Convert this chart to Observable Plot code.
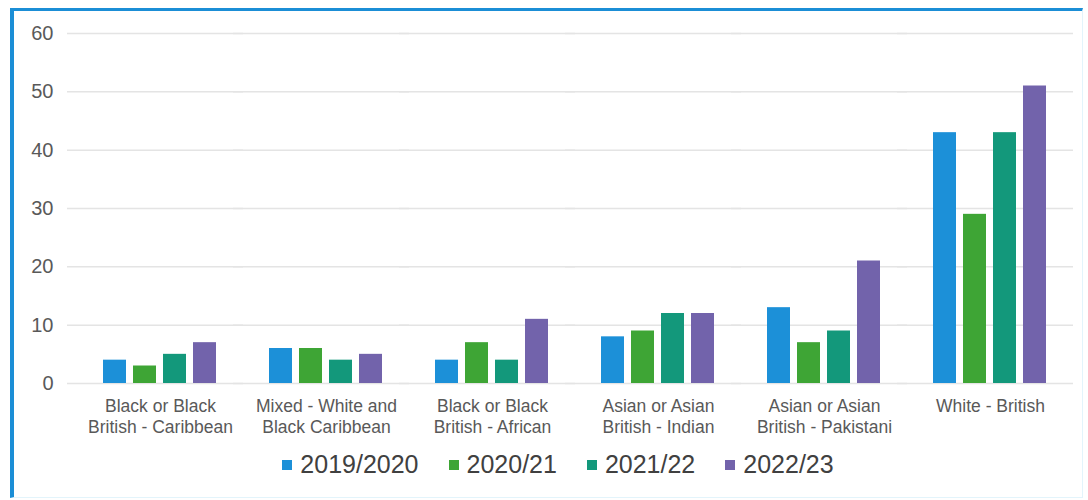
<!DOCTYPE html>
<html>
<head>
<meta charset="utf-8">
<script src="https://cdn.jsdelivr.net/npm/d3@7"></script>
<script src="https://cdn.jsdelivr.net/npm/@observablehq/plot@0.6"></script>
<style>
  html, body { margin: 0; padding: 0; background: #ffffff; width: 1088px; height: 500px; overflow: hidden; }
  body { position: relative; font-family: "Liberation Sans", Arial, sans-serif; }
  #frame { position: absolute; left: 10px; top: 8px; width: 1073px; height: 490px;
           border-top: 3px solid #1b8ed6; border-left: 4px solid #1b8ed6;
           border-right: 1px solid #e3f4fb; border-bottom: 1px solid #e3f4fb; box-sizing: border-box; }
  #chart { position: absolute; left: 0; top: 0; }
  #legend { position: absolute; left: 0; top: 450px; width: 1116px; display: flex; justify-content: center;
            gap: 30px; font-size: 25px; color: #404040; }
  .item { display: flex; align-items: center; gap: 8px; }
  .sw { width: 10px; height: 10px; display: inline-block; }
</style>
</head>
<body>
<div id="frame"></div>
<div id="chart"></div>
<div id="legend"></div>
<script>
const categories = [
  "Black or Black British - Caribbean",
  "Mixed - White and Black Caribbean",
  "Black or Black British - African",
  "Asian or Asian British - Indian",
  "Asian or Asian British - Pakistani",
  "White - British"
];
const tickLabels = [
  "Black or Black\nBritish - Caribbean",
  "Mixed - White and\nBlack Caribbean",
  "Black or Black\nBritish - African",
  "Asian or Asian\nBritish - Indian",
  "Asian or Asian\nBritish - Pakistani",
  "White - British"
];
const series = ["2019/2020", "2020/21", "2021/22", "2022/23"];
const colors = ["#1c90d8", "#3ea535", "#13987b", "#7263ab"];
const v2019 = [4, 6, 4, 8, 13, 43];
const v2020 = [3, 6, 7, 9, 7, 29];
const v2021 = [5, 4, 4, 12, 9, 43];
const v2022 = [7, 5, 11, 12, 21, 51];
const yTicks = [0, 10, 20, 30, 40, 50, 60];

const valuesBySeries = [v2019, v2020, v2021, v2022];
const data = [];
categories.forEach((c, i) => {
  series.forEach((s, j) => data.push({category: c, series: s, value: valuesBySeries[j][i]}));
});
const labelOf = new Map(categories.map((c, i) => [c, tickLabels[i]]));

const chart = Plot.plot({
  width: 1088,
  height: 445,
  marginTop: 33,
  marginBottom: 62,
  marginLeft: 77,
  marginRight: 15,
  style: {fontFamily: "Liberation Sans, Arial, sans-serif", background: "transparent"},
  fx: {domain: categories, padding: 0, label: null},
  x: {domain: series, paddingInner: 0.23, paddingOuter: 0.88, axis: null},
  y: {domain: [0, 60], label: null},
  color: {domain: series, range: colors},
  marks: [
    Plot.gridY(yTicks, {stroke: "#e4e4e4", strokeOpacity: 1, strokeWidth: 1.5, insetLeft: -10}),
    Plot.axisY(yTicks, {tickSize: 0, tickPadding: 24, fontSize: 20, fill: "#595959", label: null}),
    Plot.axisFx({anchor: "bottom", tickSize: 0, tickPadding: 14, fontSize: 17.5, lineHeight: 1.2, fill: "#595959", label: null,
                 tickFormat: d => labelOf.get(d)}),
    Plot.barY(data, {fx: "category", x: "series", y: "value", fill: "series"})
  ]
});
document.getElementById("chart").appendChild(chart);

const legend = document.getElementById("legend");
series.forEach((s, j) => {
  const item = document.createElement("div");
  item.className = "item";
  const sw = document.createElement("span");
  sw.className = "sw";
  sw.style.background = colors[j];
  const t = document.createElement("span");
  t.textContent = s;
  item.appendChild(sw);
  item.appendChild(t);
  legend.appendChild(item);
});
</script>
</body>
</html>
